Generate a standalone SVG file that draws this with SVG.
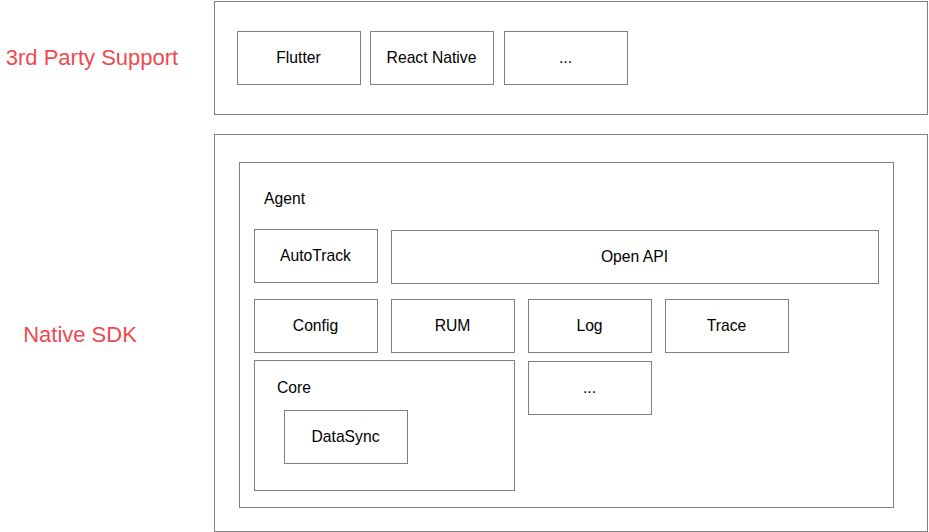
<svg xmlns="http://www.w3.org/2000/svg" width="929" height="532" viewBox="0 0 929 532">
<style>
rect{fill:#fff;stroke:#808080;stroke-width:1}
text{font-family:"Liberation Sans",Arial,sans-serif;font-size:15.7px;fill:#000}
.c{text-anchor:middle}
.red{fill:#ee4a51;font-size:22px;text-anchor:middle}
</style>
<rect x="0" y="0" width="929" height="532" style="stroke:none"/>
<text class="red" x="92" y="64.5">3rd Party Support</text>
<text class="red" x="80" y="341.5">Native SDK</text>
<g id="thirdparty"><rect x="214.5" y="1.5" width="713" height="113"/></g>
<g id="flutter"><rect x="237.5" y="31.5" width="123" height="53"/><text class="c" x="298.5" y="62.5">Flutter</text></g>
<g id="reactnative"><rect x="370.5" y="31.5" width="123" height="53"/><text class="c" x="431.5" y="62.5">React Native</text></g>
<g id="more1"><rect x="504.5" y="31.5" width="123" height="53"/><text class="c" x="565.5" y="62.5">...</text></g>
<g id="nativesdk"><rect x="214.5" y="134.5" width="713" height="397"/></g>
<g id="agent"><rect x="239.5" y="162.5" width="654" height="345"/><text x="264" y="203.5">Agent</text></g>
<g id="autotrack"><rect x="254.5" y="229.5" width="123" height="53"/><text class="c" x="315.5" y="260.5">AutoTrack</text></g>
<g id="openapi"><rect x="391.5" y="230.5" width="487" height="53"/><text class="c" x="634.5" y="261.5">Open API</text></g>
<g id="config"><rect x="254.5" y="299.5" width="123" height="53"/><text class="c" x="315.5" y="330.5">Config</text></g>
<g id="rum"><rect x="391.5" y="299.5" width="123" height="53"/><text class="c" x="452.5" y="330.5">RUM</text></g>
<g id="log"><rect x="528.5" y="299.5" width="123" height="53"/><text class="c" x="589.5" y="330.5">Log</text></g>
<g id="trace"><rect x="665.5" y="299.5" width="123" height="53"/><text class="c" x="726.5" y="330.5">Trace</text></g>
<g id="core"><rect x="254.5" y="360.5" width="260" height="130"/><text x="277" y="392.5">Core</text></g>
<g id="datasync"><rect x="284.5" y="410.5" width="123" height="53"/><text class="c" x="345.5" y="441.5">DataSync</text></g>
<g id="more2"><rect x="528.5" y="361.5" width="123" height="53"/><text class="c" x="589.5" y="392.5">...</text></g>
<g id="connectors"></g>
</svg>
